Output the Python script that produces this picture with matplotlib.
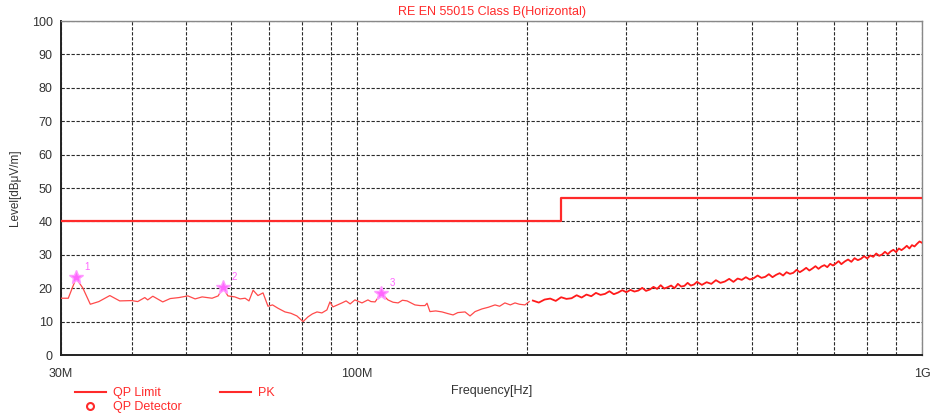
"""RE EN 55015 Class B (Horizontal) radiated emission scan, redrawn."""

import matplotlib
matplotlib.use("Agg")
import matplotlib.pyplot as plt  # noqa: E402
from matplotlib.lines import Line2D  # noqa: E402
from matplotlib.ticker import FixedLocator, NullFormatter  # noqa: E402

plt.rcParams["font.family"] = ["Liberation Sans", "DejaVu Sans"]

TITLE = "RE EN 55015 Class B(Horizontal)"

# QP limit steps (MHz, dBuV/m)
limit_freq = [30, 230, 230, 1000]
limit_level = [40, 40, 47, 47]

# PK trace, 30-200 MHz
pk_freq_low = [30.0, 30.9, 31.9, 32.8, 33.8, 35.0, 36.6, 38.1, 40.0, 41.0,
               42.2, 42.7, 43.6, 45.4, 46.8, 48.5, 50.3, 51.8, 53.3, 55.5,
               56.9, 58.0, 59.2, 60.9, 62.2, 63.5, 64.5, 65.6, 66.9, 68.3,
               69.7, 71.0, 72.6, 74.7, 76.5, 78.4, 80.4, 82.0, 83.5, 85.1,
               86.8, 88.6, 89.7, 90.8, 92.5, 94.2, 95.8, 97.4, 99.3, 102.2,
               104.7, 106.0, 107.8, 110.5, 113.6, 116.0, 118.4, 120.5, 122.8, 126.8,
               129.5, 132.1, 133.2, 134.8, 138.0, 141.6, 145.0, 148.1, 151.0, 155.5,
               158.7, 162.0, 166.6, 171.0, 175.7, 179.0, 182.9, 187.0, 190.6, 194.0,
               198.5, 202.0]
pk_level_low = [17.0, 17.0, 23.0, 20.0, 15.2, 16.0, 17.8, 16.2, 16.3, 16.0,
                17.2, 16.5, 17.6, 15.9, 16.9, 17.2, 17.7, 16.8, 17.4, 17.0,
                17.7, 20.2, 17.7, 17.4, 16.8, 17.0, 16.2, 19.4, 17.8, 18.6,
                14.6, 15.0, 14.0, 12.9, 12.5, 11.7, 10.0, 11.4, 12.3, 12.9,
                12.6, 13.5, 15.9, 14.4, 15.0, 15.6, 16.2, 15.3, 16.5, 15.6,
                16.5, 16.0, 15.9, 18.5, 16.5, 15.8, 15.6, 16.4, 16.2, 15.0,
                14.8, 14.8, 15.5, 13.0, 13.2, 12.9, 12.4, 12.0, 12.7, 12.9,
                11.7, 13.0, 13.8, 14.3, 15.0, 14.6, 15.6, 15.0, 15.6, 15.2,
                15.0, 16.0]

# PK trace, 200 MHz - 1 GHz (noisy part)
pk_freq_high = [205, 210, 215, 220, 225, 230, 235, 240, 245, 250,
                255, 260, 265, 270, 275, 280, 285, 290, 295, 300,
                305, 310, 315, 320, 325, 330, 335, 340, 345, 350,
                355, 360, 365, 370, 375, 380, 385, 390, 395, 400,
                408, 416, 424, 432, 440, 448, 456, 464, 472, 480,
                488, 496, 504, 512, 520, 528, 536, 544, 552, 560,
                568, 576, 584, 592, 600, 608, 616, 624, 632, 640,
                648, 656, 664, 672, 680, 688, 696, 704, 712, 720,
                730, 740, 750, 760, 770, 780, 790, 800, 810, 820,
                830, 840, 850, 860, 870, 880, 890, 900, 910, 920,
                930, 940, 950, 960, 970, 980, 990, 1000]
pk_level_high = [16.3, 15.7, 16.6, 16.9, 16.2, 17.3, 16.8, 17.0, 17.9, 17.2,
                 18.1, 17.6, 18.6, 18.0, 18.3, 19.1, 18.2, 18.7, 19.4, 18.8,
                 19.5, 19.0, 19.3, 20.1, 19.2, 19.6, 20.4, 19.8, 20.9, 19.9,
                 20.3, 20.8, 20.0, 21.3, 20.5, 20.7, 21.6, 20.8, 21.1, 21.9,
                 21.0, 21.8, 21.3, 22.4, 21.6, 22.0, 22.8, 21.9, 22.9, 22.5,
                 23.3, 22.6, 23.0, 23.8, 23.1, 23.4, 24.2, 23.3, 24.0, 24.5,
                 23.8, 24.8, 24.3, 24.6, 25.5, 24.8, 25.4, 26.1, 25.3, 25.9,
                 26.6, 25.8, 26.5, 26.9, 26.3, 27.3, 26.8, 27.4, 28.1, 27.2,
                 28.0, 28.6, 27.9, 29.0, 28.4, 28.8, 29.6, 28.9, 29.8, 29.4,
                 30.4, 29.7, 30.1, 30.9, 30.2, 31.0, 31.5, 30.8, 31.9, 31.4,
                 32.0, 32.7, 31.9, 32.9, 32.5, 33.3, 34.0, 33.6]

# peak markers
mark_freq = [31.9, 58.0, 110.5]
mark_level = [23.4, 20.3, 18.6]
mark_label = ["1", "2", "3"]

x_ticks = [30, 100, 1000]
x_tick_labels = ["30M", "100M", "1G"]
x_minor = [40, 50, 60, 70, 80, 90, 200, 300, 400, 500, 600, 700, 800, 900]

RED = "#ff2a2a"
TRACE = "#ff4a4a"
STAR = "#ff66ff"
GRID = "#2a2a2a"


def main() -> None:
    fig = plt.figure(figsize=(9.33, 4.16), dpi=100)
    ax = fig.add_axes([0.0654, 0.1466, 0.9228, 0.8029])

    ax.set_xscale("log")
    ax.set_xlim(30, 1000)
    ax.set_ylim(0, 100)

    ax.plot(limit_freq, limit_level, color=RED, lw=1.6, zorder=3)
    ax.plot(pk_freq_low, pk_level_low, color=TRACE, lw=0.9, zorder=3)
    ax.plot(pk_freq_high, pk_level_high, color="#ff1a1a", lw=1.3, zorder=3)

    ax.plot(mark_freq, mark_level, ls="none", marker="*", ms=10,
            color=STAR, mec="#ff99ff", zorder=4)
    for f, lv, lab in zip(mark_freq, mark_level, mark_label):
        ax.annotate(lab, (f, lv), xytext=(6, 5), textcoords="offset points",
                    color=STAR, fontsize=7)

    # grid
    ax.xaxis.set_major_locator(FixedLocator(x_ticks))
    ax.xaxis.set_minor_locator(FixedLocator(x_minor))
    ax.xaxis.set_minor_formatter(NullFormatter())
    ax.set_xticklabels(x_tick_labels)
    ax.set_yticks(range(0, 101, 10))
    ax.grid(True, which="both", color=GRID, lw=0.8, ls=(0, (3, 1.5)))
    ax.tick_params(which="both", length=0, labelsize=9, colors="#333333", pad=6)
    ax.tick_params(axis="x", pad=9)
    for side, sp in ax.spines.items():
        sp.set_color("#222222" if side in ("left", "bottom") else "#888888")
        sp.set_linewidth(1.4 if side in ("left", "bottom") else 1.0)

    ax.set_title(TITLE, color=RED, fontsize=9, pad=4)
    ax.set_xlabel("Frequency[Hz]", fontsize=9, color="#333333", labelpad=4)
    ax.set_ylabel("Level[dBμV/m]", fontsize=8.5, color="#333333", labelpad=8)

    handles = [
        Line2D([], [], color=RED, lw=1.5),
        Line2D([], [], ls="none", marker="o", ms=5, mfc="none", mec=RED, mew=1.5),
        Line2D([], [], color=RED, lw=1.5),
    ]
    labels = ["QP Limit", "QP Detector", "PK"]
    fig.legend(handles, labels, ncol=2, loc="lower left",
               bbox_to_anchor=(0.068, -0.02), frameon=False, fontsize=9,
               labelcolor=RED, handlelength=2.5, columnspacing=3.0,
               labelspacing=0.15, handletextpad=0.6)

    fig.savefig("out.png", dpi=100)
    plt.close(fig)


if __name__ == "__main__":
    main()
